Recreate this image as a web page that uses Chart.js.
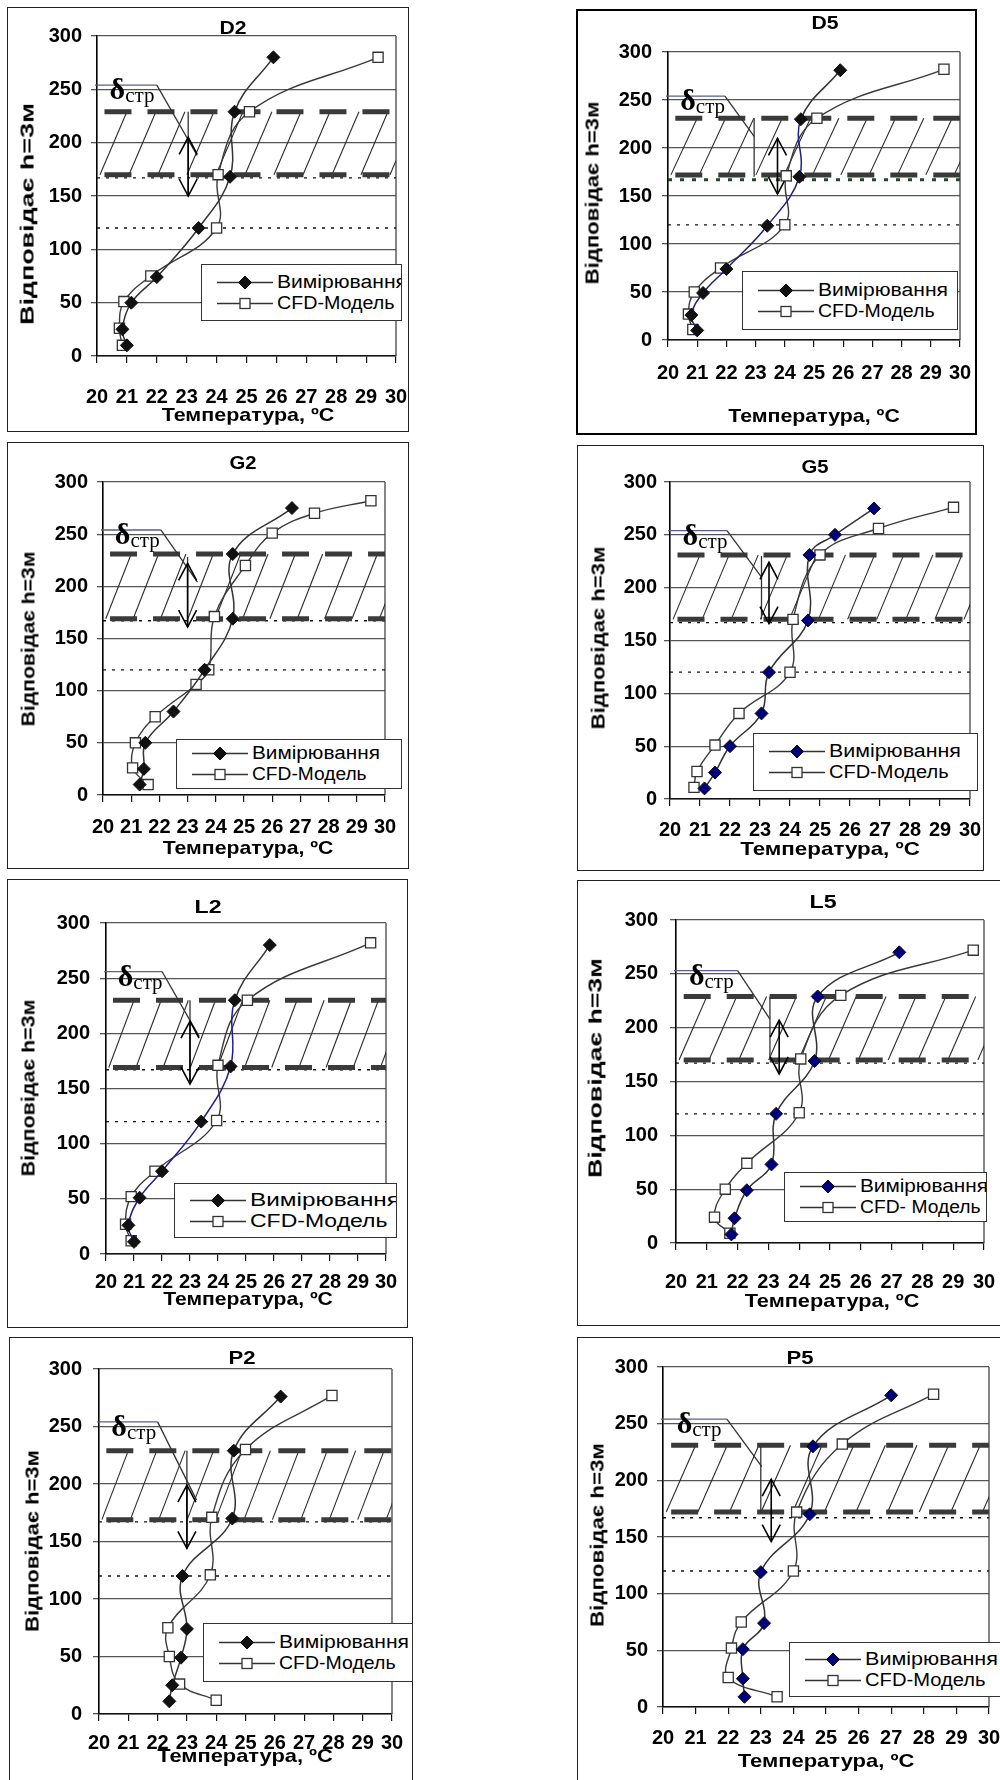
<!DOCTYPE html>
<html>
<head>
<meta charset="utf-8">
<script src="https://cdn.jsdelivr.net/npm/chart.js@4.4.0/dist/chart.umd.min.js"></script>
<style>
body { margin: 0; background: #fff; width: 1000px; height: 1780px; position: relative; overflow: hidden; font-family: "Liberation Sans", Arial, sans-serif; }
.frame { position: absolute; box-sizing: border-box; border: 1px solid #222; }
canvas { position: absolute; }
.txt { position: absolute; font-weight: bold; white-space: nowrap; color: #000; line-height: 1; }
.leg { position: absolute; box-sizing: border-box; border: 1px solid #333; background: #fff; overflow: hidden;
       display: flex; flex-direction: column; justify-content: center; gap: 1px; }
.leg .row { display: flex; align-items: center; height: 20px; padding-left: 15px; }
.leg .row span { display: inline-block; transform-origin: left center; white-space: nowrap; margin-left: 4px; }
</style>
</head>
<body>
<script>
// axis ticks
const X_TICKS = [20, 21, 22, 23, 24, 25, 26, 27, 28, 29, 30]
const Y_TICKS = [0, 50, 100, 150, 200, 250, 300]

// [temperature, height]
const D2_MEAS = [[21.0, 10], [20.85, 25], [21.15, 50], [22.0, 74], [23.4, 120], [24.45, 168], [24.6, 229], [25.9, 280]]
const D2_CFD = [[20.85, 10], [20.75, 26], [20.9, 51], [21.8, 75], [24.0, 120], [24.05, 170], [25.1, 229], [29.4, 280]]
const D5_MEAS = [[21.0, 10], [20.8, 26], [21.2, 49], [22.0, 74], [23.4, 119], [24.5, 170], [24.55, 230], [25.9, 281]]
const D5_CFD = [[20.85, 11], [20.7, 27], [20.9, 50], [21.8, 75], [24.0, 120], [24.05, 171], [25.1, 231], [29.45, 282]]
const G2_MEAS = [[21.3, 10], [21.45, 25], [21.5, 50], [22.5, 80], [23.6, 120], [24.6, 169], [24.6, 231], [26.7, 275]]
const G2_CFD = [[21.6, 10], [21.05, 26], [21.15, 50], [21.85, 75], [23.3, 106], [23.75, 120], [23.95, 171], [25.05, 220], [26.0, 251], [27.5, 270], [29.5, 282]]
const G5_MEAS = [[21.15, 10], [21.5, 25], [22.0, 50], [23.05, 81], [23.3, 120], [24.6, 169], [24.65, 231], [25.5, 250], [26.8, 275]]
const G5_CFD = [[20.8, 11], [20.9, 26], [21.5, 51], [22.3, 81], [24.0, 120], [24.1, 170], [25.0, 231], [26.95, 256], [29.45, 276]]
const L2_MEAS = [[21.0, 11], [20.8, 26], [21.2, 51], [22.0, 75], [23.4, 120], [24.45, 170], [24.6, 230], [25.85, 280]]
const L2_CFD = [[20.9, 12], [20.7, 27], [20.9, 52], [21.75, 75], [23.95, 121], [24.0, 171], [25.05, 230], [29.45, 282]]
const L5_MEAS = [[21.8, 8], [21.9, 23], [22.3, 49], [23.1, 73], [23.25, 120], [24.5, 169], [24.6, 229], [27.25, 270]]
const L5_CFD = [[21.75, 9], [21.25, 24], [21.6, 50], [22.3, 74], [24.0, 121], [24.05, 171], [25.35, 230], [29.65, 272]]
const P2_MEAS = [[22.4, 11], [22.5, 25], [22.8, 49], [23.0, 74], [22.85, 120], [24.55, 170], [24.6, 229], [26.2, 276]]
const P2_CFD = [[24.0, 12], [22.75, 26], [22.4, 50], [22.35, 75], [23.8, 121], [23.85, 171], [25.0, 230], [27.95, 277]]
const P5_MEAS = [[22.5, 9], [22.45, 25], [22.45, 51], [23.1, 74], [23.0, 119], [24.5, 170], [24.6, 230], [27.0, 275]]
const P5_CFD = [[23.5, 9], [22.0, 26], [22.1, 52], [22.4, 75], [24.0, 120], [24.1, 172], [25.5, 232], [28.3, 276]]

// layer annotation in data units: band [bottom, top], callout [y, xEnd, xDiag, yDiag],
// bracket [x, top, bottom], arrow [x, top tip, bottom tip]
const D2_NOTE = { band: [170, 229], callout: [254, 22.0, 23.35, 188], bracket: [23.05, 229, 150], arrow: [23.05, 205, 150] }
const D5_NOTE = { band: [172, 231], callout: [254, 21.95, 22.95, 212], bracket: [22.95, 231, 170], arrow: [23.75, 210, 152] }
const G2_NOTE = { band: [169, 231], callout: [254, 22.05, 23.35, 204], bracket: [23.0, 228, 161], arrow: [23.0, 222, 161] }
const G5_NOTE = { band: [170, 231], callout: [254, 21.9, 23.05, 210], bracket: [23.05, 230, 170], arrow: [23.3, 224, 166] }
const L2_NOTE = { band: [169, 230], callout: [256, 22.0, 23.33, 197], bracket: [23.0, 230, 154], arrow: [23.0, 211, 154] }
const L5_NOTE = { band: [170, 229], callout: [253, 22.0, 23.05, 208], bracket: [23.05, 229, 170], arrow: [23.35, 207, 157] }
const P2_NOTE = { band: [169, 229], callout: [254, 22.0, 23.33, 186], bracket: [23.0, 229, 144], arrow: [23.0, 199, 144] }
const P5_NOTE = { band: [172, 231], callout: [254, 21.96, 23.03, 212], bracket: [23.0, 231, 172], arrow: [23.32, 201, 146] }
const DOTTED = [167, 120]

const MEAS_LABEL = 'Вимірювання'
const Y_LABEL = 'Відповідає h=3м'
const X_LABEL = 'Температура, ºC'

// page layout, px: frame [l, t, r, b], plot [x20, x30, y300, y0]
const panels = [
    { id: 'D2', meas: D2_MEAS, cfd: D2_CFD, note: D2_NOTE, frame: [7, 7, 409, 432], plot: [97, 396, 36, 356], yPad: 9, xPad: 22,
      title: [233, 28], xTitle: [248, 414, 173], yTitle: [27, 214, 222], legend: [201, 264, 402, 321], legW: [130, 118], cfdLabel: 'CFD-Модель' },
    { id: 'D5', meas: D5_MEAS, cfd: D5_CFD, note: D5_NOTE, frame: [576, 9, 977, 435], plot: [668, 960, 52, 340], yPad: 10, xPad: 14,
      title: [825, 23], xTitle: [814, 415, 172], yTitle: [592, 193, 183], legend: [742, 271, 958, 330], legW: [130, 117], cfdLabel: 'CFD-Модель',
      blue: true, green: true, thick: true },
    { id: 'G2', meas: G2_MEAS, cfd: G2_CFD, note: G2_NOTE, frame: [7, 442, 409, 869], plot: [103, 385, 482, 795], yPad: 9, xPad: 13,
      title: [243, 463], xTitle: [248, 847, 171], yTitle: [28, 639, 175], legend: [176, 739, 402, 789], legW: [128, 115], cfdLabel: 'CFD-Модель' },
    { id: 'G5', meas: G5_MEAS, cfd: G5_CFD, note: G5_NOTE, frame: [577, 445, 984, 871], plot: [670, 970, 482, 799], yPad: 7, xPad: 12,
      title: [815, 467], xTitle: [830, 848, 180], yTitle: [598, 638, 183], legend: [753, 733, 978, 791], legW: [132, 120], cfdLabel: 'CFD-Модель',
      navy: true },
    { id: 'L2', meas: L2_MEAS, cfd: L2_CFD, note: L2_NOTE, frame: [7, 879, 408, 1328], plot: [106, 386, 923, 1254], yPad: 10, xPad: 9,
      title: [208, 907], xTitle: [248, 1298, 170], yTitle: [28, 1088, 177], legend: [174, 1183, 397, 1238], legW: [150, 138], cfdLabel: 'CFD-Модель',
      blue: true },
    { id: 'L5', meas: L5_MEAS, cfd: L5_CFD, note: L5_NOTE, frame: [577, 880, 1003, 1326], plot: [676, 984, 920, 1243], yPad: 12, xPad: 20,
      title: [823, 902], xTitle: [832, 1300, 175], yTitle: [595, 1068, 220], legend: [784, 1172, 987, 1222], legW: [128, 121], cfdLabel: 'CFD- Модель',
      navy: true },
    { id: 'P2', meas: P2_MEAS, cfd: P2_CFD, note: P2_NOTE, frame: [9, 1337, 413, 1781], plot: [99, 392, 1369, 1714], yPad: 11, xPad: 10,
      title: [242, 1358], xTitle: [245, 1755, 176], yTitle: [32, 1541, 182], legend: [203, 1623, 413, 1682], legW: [130, 117], cfdLabel: 'CFD-Модель' },
    { id: 'P5', meas: P5_MEAS, cfd: P5_CFD, note: P5_NOTE, frame: [577, 1337, 1003, 1781], plot: [663, 989, 1367, 1707], yPad: 9, xPad: 12,
      title: [800, 1358], xTitle: [826, 1760, 177], yTitle: [597, 1535, 184], legend: [789, 1642, 1003, 1697], legW: [133, 121], cfdLabel: 'CFD-Модель',
      navy: true }
]

const tickFont = { family: '"Liberation Sans", Arial, sans-serif', size: 20, weight: 'bold' }

function seg(ctx, x1, y1, x2, y2) {
    ctx.beginPath()
    ctx.moveTo(x1, y1)
    ctx.lineTo(x2, y2)
    ctx.stroke()
}

// hatched layer, dashed boundaries, callout and arrows, drawn from the scales
const layerPlugin = {
    id: 'layer',
    beforeDatasetsDraw(chart, args, opts) {
        const n = opts.note
        const { ctx, chartArea: a } = chart
        const px = v => chart.scales.x.getPixelForValue(v)
        const py = v => chart.scales.y.getPixelForValue(v)
        ctx.save()
        ctx.lineCap = 'butt'

        // right frame of plot
        ctx.strokeStyle = '#444'
        ctx.lineWidth = 1.3
        seg(ctx, a.right, a.top, a.right, a.bottom)

        // hatch
        ctx.save()
        ctx.beginPath()
        ctx.rect(a.left, a.top, a.width, a.height)
        ctx.clip()
        ctx.strokeStyle = '#2b2b2b'
        ctx.lineWidth = 1.1
        for (let t = 20.1; t < 30; t += 0.97) {
            seg(ctx, px(t), py(n.band[0]), px(t + 0.9), py(n.band[1]))
        }
        ctx.restore()

        // dotted lines
        ctx.setLineDash([3, 6])
        ctx.strokeStyle = '#111'
        ctx.lineWidth = 1.3
        DOTTED.forEach((h, i) => {
            if (i === 0 && opts.green) {
                ctx.save()
                ctx.strokeStyle = '#1d4d1d'
                ctx.lineWidth = 3
                ctx.setLineDash([4, 8])
                seg(ctx, a.left, py(h), a.right + 8, py(h))
                ctx.restore()
            } else {
                seg(ctx, a.left, py(h), a.right, py(h))
            }
        })

        // thick dashed boundaries of the layer
        ctx.setLineDash([27, 16])
        ctx.strokeStyle = '#3a3a3a'
        ctx.lineWidth = 5
        n.band.forEach(h => seg(ctx, px(20.25), py(h), a.right, py(h)))
        ctx.setLineDash([])

        // callout for the layer thickness
        const [cy, cx1, cx2, cy2] = n.callout
        ctx.lineWidth = 1.3
        ctx.strokeStyle = '#5a5e8c'
        seg(ctx, a.left - 2, py(cy), px(cx1), py(cy))
        ctx.strokeStyle = '#333'
        seg(ctx, px(cx1), py(cy), px(cx2), py(cy2))
        const [bx, bt, bb] = n.bracket
        seg(ctx, px(bx), py(bt), px(bx), py(bb))

        // double arrow
        const [ax, at, ab] = n.arrow
        const X = px(ax), T = py(at), B = py(ab)
        ctx.strokeStyle = '#000'
        ctx.lineWidth = 1.6
        seg(ctx, X, T, X, B)
        ctx.beginPath()
        ctx.moveTo(X - 9, T + 17)
        ctx.lineTo(X, T)
        ctx.lineTo(X + 9, T + 17)
        ctx.moveTo(X - 9, B - 17)
        ctx.lineTo(X, B)
        ctx.lineTo(X + 9, B - 17)
        ctx.stroke()

        // delta label
        ctx.fillStyle = '#000'
        ctx.textBaseline = 'alphabetic'
        ctx.font = 'bold 30px "Liberation Serif", serif'
        const dx = px(20.42)
        ctx.fillText('δ', dx, py(cy) + 14)
        const dw = ctx.measureText('δ').width
        ctx.font = '21px "Liberation Serif", serif'
        ctx.fillText('стр', dx + dw, py(cy) + 17)
        ctx.restore()
    }
}

function addText(text, x, y, size, target, rotate) {
    const el = document.createElement('div')
    el.className = 'txt'
    el.textContent = text
    el.style.fontSize = size + 'px'
    el.style.left = x + 'px'
    el.style.top = y + 'px'
    document.body.appendChild(el)
    const k = target / el.offsetWidth
    el.style.transform = rotate
        ? `translate(-50%, -50%) rotate(-90deg) scaleX(${k})`
        : `translate(-50%, -50%) scaleX(${k})`
    return el
}

function markerSvg(kind, fill) {
    const shape = kind === 'diamond'
        ? `<polygon points="28,1 34.5,7.5 28,14 21.5,7.5" fill="${fill}" stroke="#111" stroke-width="1"/>`
        : `<rect x="23" y="2.5" width="10" height="10" fill="#fff" stroke="#333" stroke-width="1.3"/>`
    return `<svg width="56" height="15" style="flex:none"><line x1="0" y1="7.5" x2="56" y2="7.5" stroke="#333" stroke-width="1.5"/>${shape}</svg>`
}

function addLegend(p) {
    const [l, t, r, b] = p.legend
    const box = document.createElement('div')
    box.className = 'leg'
    box.style.left = l + 'px'
    box.style.top = t + 'px'
    box.style.width = (r - l) + 'px'
    box.style.height = (b - t) + 'px'
    const fill = p.navy ? '#00007a' : '#111'
    box.innerHTML =
        `<div class="row">${markerSvg('diamond', fill)}<span style="font-size:18px">${MEAS_LABEL}</span></div>` +
        `<div class="row">${markerSvg('square')}<span style="font-size:18px">${p.cfdLabel}</span></div>`
    document.body.appendChild(box)
    box.querySelectorAll('span').forEach((s, i) => {
        s.style.transform = `scaleX(${p.legW[i] / s.offsetWidth})`
    })
}

function toPoints(rows) {
    return rows.map(([t, h]) => ({ x: t, y: h }))
}

function drawPanel(p) {
    const [L, T, R, B] = p.frame
    const [x20, x30, y300, y0] = p.plot

    const frame = document.createElement('div')
    frame.className = 'frame'
    frame.style.left = L + 'px'
    frame.style.top = T + 'px'
    frame.style.width = (R - L) + 'px'
    frame.style.height = (B - T) + 'px'
    if (p.thick) frame.style.border = '2px solid #000'
    document.body.appendChild(frame)

    const canvas = document.createElement('canvas')
    canvas.width = R - L
    canvas.height = B - T
    canvas.style.left = L + 'px'
    canvas.style.top = T + 'px'
    document.body.appendChild(canvas)

    const measSegment = p.blue
        ? { borderColor: c => (c.p1.parsed.y < 240 ? '#1e1e8c' : '#333') }
        : undefined

    new Chart(canvas, {
        type: 'line',
        data: {
            datasets: [
                {
                    label: MEAS_LABEL,
                    data: toPoints(p.meas),
                    borderColor: '#333',
                    borderWidth: 1.5,
                    tension: 0.4,
                    segment: measSegment,
                    pointStyle: 'rectRot',
                    pointRadius: 6.5,
                    pointBackgroundColor: p.navy ? '#00007a' : '#111',
                    pointBorderColor: '#111',
                    pointBorderWidth: 1
                },
                {
                    label: p.cfdLabel,
                    data: toPoints(p.cfd),
                    borderColor: '#3a3a3a',
                    borderWidth: 1.4,
                    tension: 0.4,
                    pointStyle: 'rect',
                    pointRadius: 7.2,
                    pointBackgroundColor: '#fff',
                    pointBorderColor: '#333',
                    pointBorderWidth: 1.3
                }
            ]
        },
        options: {
            responsive: false,
            animation: false,
            devicePixelRatio: 1,
            layout: { padding: { top: y300 - T, right: R - x30, left: 0, bottom: 0 } },
            scales: {
                x: {
                    type: 'linear',
                    min: X_TICKS[0],
                    max: X_TICKS[X_TICKS.length - 1],
                    afterBuildTicks: s => { s.ticks = X_TICKS.map(v => ({ value: v })) },
                    ticks: { font: tickFont, color: '#000', padding: p.xPad, maxRotation: 0, autoSkip: false },
                    grid: { drawOnChartArea: false, tickLength: 7, color: '#111', lineWidth: 1.2 },
                    border: { color: '#111', width: 1.5 },
                    afterFit: s => { s.height = B - y0; s.paddingLeft = 0; s.paddingRight = 0 }
                },
                y: {
                    type: 'linear',
                    min: Y_TICKS[0],
                    max: Y_TICKS[Y_TICKS.length - 1],
                    afterBuildTicks: s => { s.ticks = Y_TICKS.map(v => ({ value: v })) },
                    ticks: { font: tickFont, color: '#000', padding: p.yPad },
                    grid: { color: '#555', lineWidth: 1.3, tickLength: 6 },
                    border: { color: '#000', width: 1.6 },
                    afterFit: s => { s.width = x20 - L; s.paddingTop = 0; s.paddingBottom = 0 }
                }
            },
            plugins: {
                legend: { display: false },
                tooltip: { enabled: false },
                layer: { note: p.note, green: p.green }
            }
        },
        plugins: [layerPlugin]
    })

    addText(p.id, p.title[0], p.title[1], 18, 27, false)
    addText(X_LABEL, p.xTitle[0], p.xTitle[1], 19, p.xTitle[2], false)
    addText(Y_LABEL, p.yTitle[0], p.yTitle[1], 19, p.yTitle[2], true)
    addLegend(p)
}

panels.forEach(drawPanel)
</script>
</body>
</html>
